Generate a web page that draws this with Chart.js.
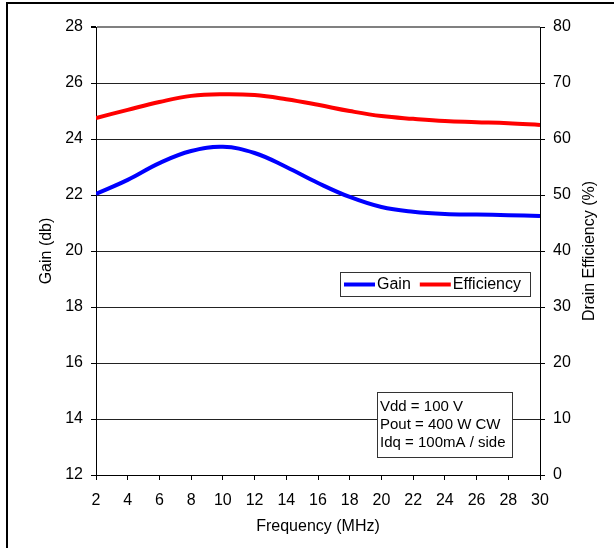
<!DOCTYPE html>
<html>
<head>
<meta charset="utf-8">
<script src="https://cdn.jsdelivr.net/npm/chart.js@4"></script>
<style>
  body { margin: 0; background: #fff; }
  #wrap { width: 614px; height: 548px; position: relative; }
</style>
</head>
<body>
<div id="wrap"><canvas id="grafico_ganho" width="614" height="548"></canvas></div>
<script>
var frequencia = [2, 4, 6, 8, 10, 12, 14, 16, 18, 20, 22, 24, 26, 28, 30];
var ganho = [22.04, 22.54, 23.14, 23.57, 23.72, 23.5, 23.0, 22.43, 21.93, 21.57, 21.4, 21.32, 21.3, 21.28, 21.25];
var eficiencia = [63.75, 65.2, 66.6, 67.7, 68.0, 67.85, 67.1, 66.1, 65.0, 64.1, 63.6, 63.2, 63.0, 62.8, 62.5];
var notas = ['Vdd = 100 V', 'Pout = 400 W CW', 'Idq = 100mA / side'];

var fonte = 'Arial, "Liberation Sans", sans-serif';

function pontos(valores){
  return frequencia.map(function(f, i){ return { x: f, y: valores[i] }; });
}

// moldura, titulos, legenda e caixa de texto
var extras = {
  id: 'extras',
  afterDraw: function(chart){
    var ctx = chart.ctx;
    ctx.save();
    ctx.fillStyle = '#000';
    ctx.fillRect(6, 2, 608, 2);
    ctx.fillRect(6, 2, 2, 546);

    // titulos dos eixos
    ctx.font = '16px ' + fonte;
    ctx.textAlign = 'center';
    ctx.textBaseline = 'middle';
    ctx.fillText('Frequency (MHz)', 318, 527);
    ctx.save();
    ctx.translate(47, 251);
    ctx.rotate(-Math.PI / 2);
    ctx.fillText('Gain (db)', 0, 0);
    ctx.restore();
    ctx.save();
    ctx.translate(590, 251);
    ctx.rotate(-Math.PI / 2);
    ctx.fillText('Drain Efficiency (%)', 0, 0);
    ctx.restore();
    ctx.textAlign = 'left';

    // legenda
    ctx.fillStyle = '#fff';
    ctx.fillRect(340, 272, 190, 24);
    ctx.strokeStyle = '#333';
    ctx.lineWidth = 1;
    ctx.strokeRect(340.5, 272.5, 190, 24);
    ctx.font = '16px ' + fonte;
    var x = 344;
    chart.data.datasets.forEach(function(ds){
      ctx.strokeStyle = ds.borderColor;
      ctx.lineWidth = 4;
      ctx.beginPath();
      ctx.moveTo(x, 284.5);
      ctx.lineTo(x + 31, 284.5);
      ctx.stroke();
      ctx.fillStyle = '#000';
      ctx.fillText(ds.label, x + 33, 285);
      x += 33 + ctx.measureText(ds.label).width + 9;
    });

    // notas
    ctx.fillStyle = '#fff';
    ctx.fillRect(377, 392, 136, 66);
    ctx.strokeStyle = '#333';
    ctx.lineWidth = 1;
    ctx.strokeRect(377.5, 392.5, 135, 65);
    ctx.fillStyle = '#000';
    ctx.font = '15px ' + fonte;
    notas.forEach(function(t, i){
      ctx.fillText(t, 380, 407 + i * 18);
    });
    ctx.restore();
  }
};

new Chart(document.getElementById('grafico_ganho'), {
  type: 'line',
  data: {
    datasets: [
      {
        label: 'Gain',
        data: pontos(ganho),
        yAxisID: 'y',
        borderColor: '#0000ff',
        borderWidth: 4,
        pointRadius: 0,
        tension: 0.4,
        fill: false
      },
      {
        label: 'Efficiency',
        data: pontos(eficiencia),
        yAxisID: 'y2',
        borderColor: '#ff0000',
        borderWidth: 4,
        pointRadius: 0,
        tension: 0.4,
        fill: false
      }
    ]
  },
  options: {
    responsive: false,
    animation: false,
    layout: { padding: { top: 27, left: 0, right: 0, bottom: 0 } },
    plugins: { legend: { display: false }, tooltip: { enabled: false } },
    scales: {
      x: {
        type: 'linear',
        min: 2,
        max: 30,
        ticks: { stepSize: 2, color: '#000', font: { family: fonte, size: 16 }, padding: 11 },
        grid: { drawOnChartArea: false, tickLength: 5, tickColor: '#000' },
        border: { color: '#000', width: 1 },
        afterFit: function(s){ s.height = 548 - 475; }
      },
      y: {
        position: 'left',
        min: 12,
        max: 28,
        ticks: { stepSize: 2, color: '#000', font: { family: fonte, size: 16 }, padding: 8 },
        grid: { color: function(c){ return c.tick && c.tick.value == 28 ? '#808080' : '#222'; }, lineWidth: function(c){ return c.tick && c.tick.value == 28 ? 2 : 1; }, tickLength: 5, tickColor: '#000' },
        border: { color: '#000', width: 1 },
        afterFit: function(s){ s.width = 96; }
      },
      y2: {
        position: 'right',
        min: 0,
        max: 80,
        ticks: { stepSize: 10, color: '#000', font: { family: fonte, size: 16 }, padding: 8 },
        grid: { drawOnChartArea: false, tickLength: 5, tickColor: '#000' },
        border: { color: '#000', width: 1 },
        afterFit: function(s){ s.width = 614 - 540; }
      }
    }
  },
  plugins: [extras]
});
</script>
</body>
</html>
